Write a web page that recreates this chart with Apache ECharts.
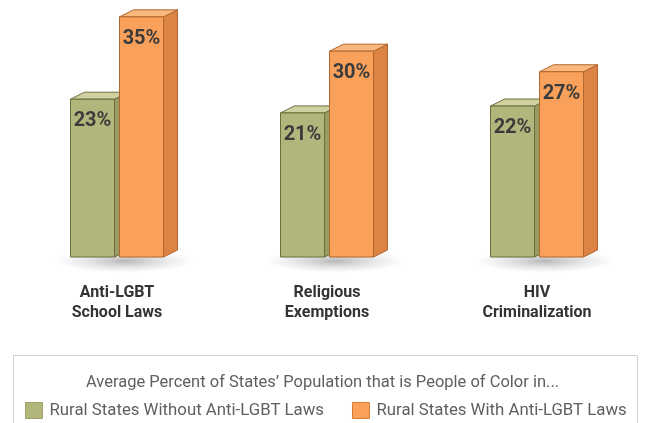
<!DOCTYPE html>
<html>
<head>
<meta charset="utf-8">
<script src="https://cdn.jsdelivr.net/npm/echarts@6/dist/echarts.min.js"></script>
<style>
  html, body { margin: 0; padding: 0; background: #fff; }
  #chart { width: 645px; height: 423px; }
</style>
</head>
<body>
<div id="chart"></div>
<script>
var categories = ['Anti-LGBT\nSchool Laws', 'Religious\nExemptions', 'HIV\nCriminalization'];
var withoutLaws = [23, 21, 22];
var withLaws = [35, 30, 27];
var seriesNames = ['Rural States Without Anti-LGBT Laws', 'Rural States With Anti-LGBT Laws'];
var legendTitle = 'Average Percent of States\u2019 Population that is People of Color in...';

var FONT = 'Roboto, "Liberation Sans", sans-serif';

var palettes = [
  { front: '#b3b67c', top: '#cfd2a0', side: '#999c62', line: '#6b6d3e', key: '#9c9f66' },
  { front: '#f9a15a', top: '#fbb87e', side: '#db8443', line: '#b0662c', key: '#d97b36' }
];

// side offset of the 3d box
var DX = 14, DY = 7, BW = 44, GAP = 5;

function makeRender(idx) {
  return function (params, api) {
    var cat = api.value(0);
    var val = api.value(1);
    var top = api.coord([cat, val]);
    var base = api.coord([cat, 0]);
    var cx = top[0];
    var x0 = idx === 0 ? cx - GAP / 2 - BW : cx + GAP / 2;
    var x1 = x0 + BW;
    var y0 = top[1], y1 = base[1];
    var p = palettes[idx];
    var lineStyle = { stroke: p.line, lineWidth: 1 };
    var children = [];
    if (idx === 0) {
      // soft floor shadow under the pair of bars
      children.push({
        type: 'circle',
        x: cx + 8, y: y1 + 4,
        scaleY: 0.17,
        shape: { cx: 0, cy: 0, r: 70 },
        style: {
          fill: new echarts.graphic.RadialGradient(0.5, 0.5, 0.5, [
            { offset: 0, color: 'rgba(110,110,110,0.5)' },
            { offset: 0.5, color: 'rgba(140,140,140,0.25)' },
            { offset: 1, color: 'rgba(170,170,170,0)' }
          ])
        },
        z2: 0
      });
    }
    children.push({
      type: 'polygon',
      shape: { points: [[x1, y0], [x1 + DX, y0 - DY], [x1 + DX, y1 - DY], [x1, y1]] },
      style: Object.assign({ fill: p.side }, lineStyle), z2: 1
    });
    children.push({
      type: 'polygon',
      shape: { points: [[x0, y0], [x0 + DX, y0 - DY], [x1 + DX, y0 - DY], [x1, y0]] },
      style: Object.assign({ fill: p.top }, lineStyle), z2: 1
    });
    children.push({
      type: 'rect',
      shape: { x: x0, y: y0, width: BW, height: y1 - y0 },
      style: Object.assign({ fill: p.front }, lineStyle), z2: 2
    });
    children.push({
      type: 'text',
      style: {
        text: val + '%', x: (x0 + x1) / 2, y: y0 + 22,
        align: 'center', verticalAlign: 'middle',
        font: 'bold 20px ' + FONT, fill: '#3b3b3b'
      },
      z2: 3
    });
    return { type: 'group', children: children };
  };
}

function toData(arr) {
  return arr.map(function (v, i) { return [i, v]; });
}

var chart = echarts.init(document.getElementById('chart'));
chart.setOption({
  animation: false,
  title: {
    text: legendTitle,
    left: 'center',
    top: 369,
    textStyle: { fontFamily: FONT, fontSize: 16.5, fontWeight: 'normal', color: '#5f5f5f' }
  },
  legend: {
    top: 397,
    left: 20,
    itemWidth: 17,
    itemHeight: 16,
    itemGap: 28,
    icon: 'rect',
    textStyle: { fontFamily: FONT, fontSize: 16.8, color: '#5f5f5f', padding: [0, 0, 0, 2] },
    data: [
      { name: seriesNames[0], itemStyle: { color: palettes[0].front, borderColor: palettes[0].key, borderWidth: 1 } },
      { name: seriesNames[1], itemStyle: { color: palettes[1].front, borderColor: palettes[1].key, borderWidth: 1 } }
    ]
  },
  graphic: [{
    type: 'rect',
    shape: { x: 13.5, y: 355.5, width: 624, height: 80 },
    style: { fill: 'none', stroke: '#cfcfcf', lineWidth: 1 }
  }],
  grid: { left: 12, right: 3, top: 10, bottom: 166 },
  xAxis: {
    type: 'category',
    data: categories,
    axisLine: { show: false },
    axisTick: { show: false },
    axisLabel: {
      margin: 26,
      fontFamily: FONT, fontSize: 16, fontWeight: 'bold', color: '#333',
      lineHeight: 20
    }
  },
  yAxis: {
    type: 'value', min: 0, max: 36,
    show: false,
    splitLine: { show: false }
  },
  series: [
    {
      name: seriesNames[0], type: 'custom', renderItem: makeRender(0),
      itemStyle: { color: palettes[0].front, borderColor: palettes[0].key, borderWidth: 1 },
      data: toData(withoutLaws)
    },
    {
      name: seriesNames[1], type: 'custom', renderItem: makeRender(1),
      itemStyle: { color: palettes[1].front, borderColor: palettes[1].key, borderWidth: 1 },
      data: toData(withLaws)
    }
  ]
});
</script>
</body>
</html>
